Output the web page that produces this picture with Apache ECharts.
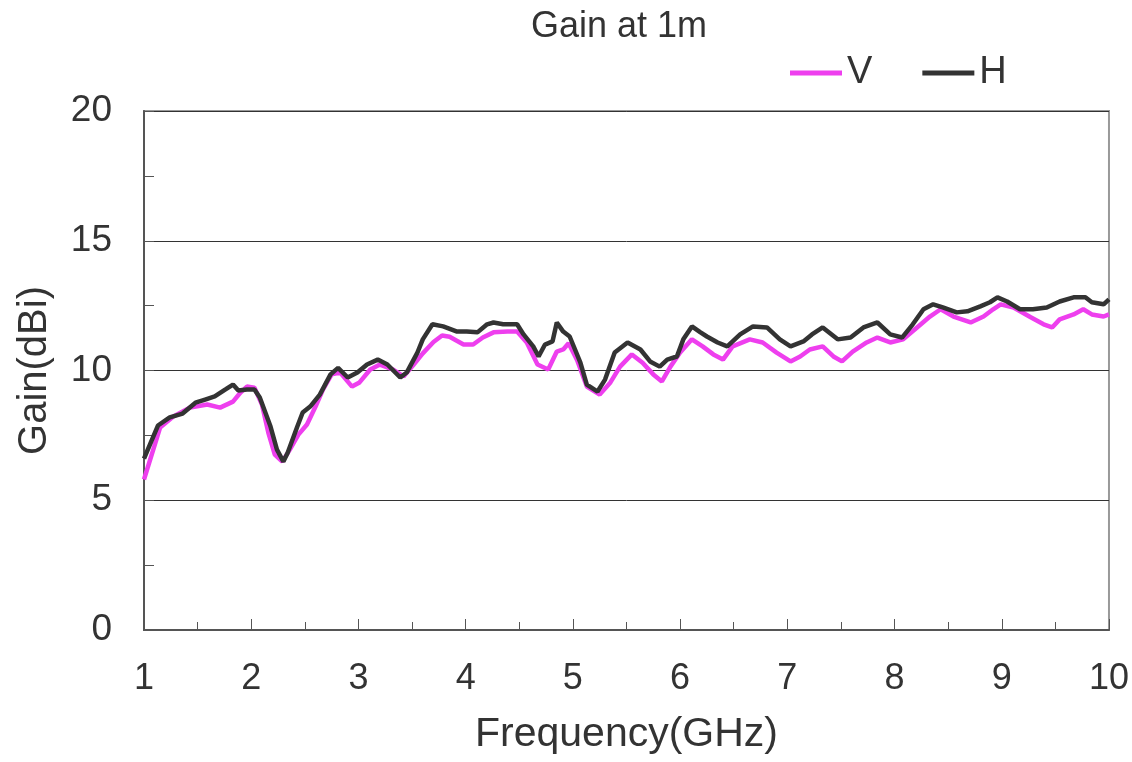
<!DOCTYPE html>
<html>
<head>
<meta charset="utf-8">
<script src="https://cdn.jsdelivr.net/npm/echarts@6/dist/echarts.min.js"></script>
<style>
  html, body { margin: 0; padding: 0; background: #fff; }
  #chart { width: 1132px; height: 762px; }
</style>
</head>
<body>
<div id="chart"></div>
<script>
// frequency (GHz) and gain (dBi)
const vFreq = [1.00, 1.15, 1.27, 1.43, 1.59, 1.71, 1.83, 1.90, 1.96, 2.03, 2.10, 2.16, 2.22, 2.29, 2.36, 2.44, 2.52, 2.60, 2.67, 2.75,
  2.83, 2.94, 3.01, 3.11, 3.20, 3.32, 3.42, 3.51, 3.60, 3.70, 3.78, 3.85, 3.98, 4.07, 4.16, 4.26, 4.39, 4.48, 4.57, 4.67,
  4.77, 4.85, 4.91, 4.96, 5.04, 5.13, 5.25, 5.35, 5.44, 5.55, 5.65, 5.75, 5.83, 5.91, 6.00, 6.11, 6.21, 6.31, 6.40, 6.49,
  6.65, 6.77, 6.90, 7.03, 7.12, 7.21, 7.33, 7.43, 7.51, 7.61, 7.74, 7.84, 7.96, 8.08, 8.21, 8.33, 8.43, 8.55, 8.71, 8.83,
  8.92, 8.99, 9.11, 9.27, 9.39, 9.47, 9.54, 9.67, 9.76, 9.84, 9.95, 10.00];
const vGain = [5.8, 7.8, 8.22, 8.57, 8.69, 8.57, 8.8, 9.15, 9.38, 9.34, 8.69, 7.6, 6.76, 6.49, 6.95, 7.53, 7.92, 8.61, 9.27, 9.85,
  9.92, 9.38, 9.54, 10.04, 10.23, 10.04, 9.77, 10.2, 10.66, 11.1, 11.35, 11.3, 11.0, 11.0, 11.27, 11.47, 11.5, 11.5, 11.08, 10.23,
  10.04, 10.73, 10.81, 11.05, 10.4, 9.38, 9.07, 9.54, 10.15, 10.62, 10.3, 9.85, 9.58, 10.15, 10.69, 11.2, 10.93, 10.62, 10.42, 10.93,
  11.2, 11.08, 10.69, 10.35, 10.54, 10.81, 10.93, 10.54, 10.35, 10.73, 11.08, 11.27, 11.08, 11.2, 11.66, 12.08, 12.36, 12.08, 11.85, 12.08,
  12.36, 12.55, 12.43, 12.05, 11.78, 11.66, 11.97, 12.16, 12.36, 12.16, 12.08, 12.16];

const hFreq = [1.00, 1.13, 1.24, 1.36, 1.48, 1.57, 1.66, 1.76, 1.83, 1.88, 1.96, 2.03, 2.08, 2.18, 2.24, 2.30, 2.34, 2.43, 2.48, 2.55,
  2.64, 2.74, 2.81, 2.90, 2.99, 3.08, 3.18, 3.27, 3.39, 3.45, 3.55, 3.60, 3.69, 3.79, 3.92, 4.01, 4.11, 4.20, 4.26, 4.35,
  4.48, 4.54, 4.63, 4.68, 4.74, 4.81, 4.85, 4.91, 4.97, 5.07, 5.13, 5.23, 5.30, 5.39, 5.51, 5.63, 5.72, 5.81, 5.88, 5.97,
  6.03, 6.11, 6.19, 6.25, 6.35, 6.44, 6.56, 6.68, 6.81, 6.93, 7.03, 7.15, 7.23, 7.33, 7.47, 7.59, 7.71, 7.84, 7.96, 8.07,
  8.17, 8.27, 8.36, 8.45, 8.58, 8.68, 8.80, 8.89, 8.96, 9.05, 9.17, 9.29, 9.42, 9.54, 9.67, 9.78, 9.84, 9.95, 10.00];
const hGain = [6.6, 7.88, 8.19, 8.34, 8.76, 8.88, 9.0, 9.27, 9.46, 9.23, 9.27, 9.27, 8.96, 7.84, 6.95, 6.49, 6.83, 7.84, 8.38, 8.61,
  9.07, 9.85, 10.1, 9.73, 9.92, 10.23, 10.42, 10.23, 9.73, 9.92, 10.69, 11.2, 11.78, 11.7, 11.5, 11.5, 11.47, 11.78, 11.85, 11.78,
  11.78, 11.39, 10.93, 10.54, 11.0, 11.12, 11.85, 11.5, 11.31, 10.3, 9.46, 9.19, 9.65, 10.69, 11.08, 10.81, 10.35, 10.15, 10.42, 10.54,
  11.2, 11.7, 11.47, 11.31, 11.08, 10.93, 11.39, 11.7, 11.66, 11.2, 10.93, 11.12, 11.39, 11.66, 11.2, 11.27, 11.66, 11.85, 11.39, 11.27,
  11.78, 12.36, 12.55, 12.43, 12.24, 12.28, 12.47, 12.63, 12.82, 12.66, 12.36, 12.36, 12.43, 12.66, 12.82, 12.82, 12.63, 12.55, 12.74];

const pairs = (xs, ys) => xs.map((x, i) => [x, ys[i]]);

const textColor = "#333";
const font = "Liberation Sans, Arial, sans-serif";

const chart = echarts.init(document.getElementById("chart"));
chart.setOption({
  animation: false,
  title: {
    text: "Gain at 1m",
    left: 526,
    top: 4,
    textStyle: { fontFamily: font, fontSize: 36, fontWeight: "normal", color: textColor },
  },
  legend: {
    data: ["V", "H"],
    left: 785,
    top: 49,
    icon: "rect",
    itemWidth: 52,
    itemHeight: 5,
    itemGap: 50,
    textStyle: { fontFamily: font, fontSize: 38, color: textColor },
  },
  grid: {
    left: 144,
    right: 22,
    top: 111,
    bottom: 132,
    show: true,
    borderColor: "#999",
    borderWidth: 2,
  },
  xAxis: {
    type: "value",
    min: 1,
    max: 10,
    interval: 1,
    name: "Frequency(GHz)",
    nameLocation: "middle",
    nameGap: 84,
    nameTextStyle: { fontFamily: font, fontSize: 41, color: textColor },
    axisLine: { lineStyle: { color: "#555", width: 2 } },
    axisTick: { inside: true, length: 11, lineStyle: { color: "#555", width: 1 } },
    minorTick: { show: true, splitNumber: 2, length: 8, lineStyle: { color: "#555", width: 1 } },
    axisLabel: { fontFamily: font, fontSize: 36, color: textColor, margin: 31 },
    splitLine: { show: false },
  },
  yAxis: {
    type: "value",
    min: 0,
    max: 20,
    interval: 5,
    name: "Gain(dBi)",
    nameLocation: "middle",
    nameGap: 89,
    nameTextStyle: { fontFamily: font, fontSize: 40, color: textColor },
    axisLine: { show: true, lineStyle: { color: "#555", width: 2 } },
    axisTick: { show: true, inside: true, length: 10, lineStyle: { color: "#555", width: 1 } },
    minorTick: { show: true, splitNumber: 2, length: 10, lineStyle: { color: "#555", width: 1 } },
    axisLabel: { fontFamily: font, fontSize: 37, color: textColor, margin: 32 },
    splitLine: { show: true, lineStyle: { color: "#333", width: 1 } },
  },
  series: [
    {
      name: "V",
      type: "line",
      data: pairs(vFreq, vGain),
      showSymbol: false,
      lineStyle: { color: "#ee3fee", width: 4.5 },
      itemStyle: { color: "#ee3fee" },
    },
    {
      name: "H",
      type: "line",
      data: pairs(hFreq, hGain),
      showSymbol: false,
      lineStyle: { color: "#333", width: 4.5 },
      itemStyle: { color: "#333" },
    },
  ],
});
</script>
</body>
</html>
